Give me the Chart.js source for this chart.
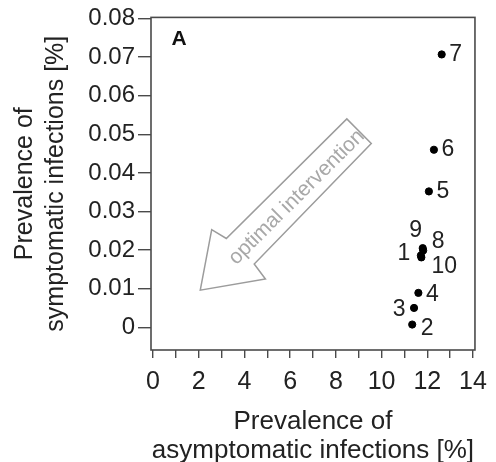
<!DOCTYPE html>
<html>
<head>
<meta charset="utf-8">
<script src="https://cdn.jsdelivr.net/npm/chart.js@4"></script>
<style>
  html, body { margin: 0; padding: 0; background: #fff; }
  #chart { display: block; }
</style>
</head>
<body>
<canvas id="chart" width="496" height="462"></canvas>
<script>
// scenario ids and prevalences
const scenarioIds = ['1', '2', '3', '4', '5', '6', '7', '8', '9', '10'];
const asymptomaticPct = [11.72, 11.34, 11.42, 11.61, 12.07, 12.29, 12.63, 11.82, 11.80, 11.74];
const symptomaticPct = [0.0186, 0.0007, 0.0050, 0.0089, 0.0352, 0.0460, 0.0707, 0.0199, 0.0205, 0.0181];

const xTickValues = [0, 2, 4, 6, 8, 10, 12, 14];
const yTickValues = [0, 0.01, 0.02, 0.03, 0.04, 0.05, 0.06, 0.07, 0.08];

// outline of the "optimal intervention" arrow, in data units (x %, y %)
const arrowOutline = [
    [2.07, 0.0096], [2.57, 0.0253], [3.21, 0.0230], [8.48, 0.0540],
    [9.55, 0.0476], [4.43, 0.0164], [4.92, 0.0125]
];
const arrowText = 'optimal intervention';

// where each number sits next to its dot (pixels)
const labelOffsets = [
    [-17, -2], [15, 4], [-15, 2], [14, 2], [14, 0],
    [14, 0], [14, 0], [15, -9], [-7, -17], [23, 9]
];

const FONT = "'Liberation Sans', Arial, Helvetica, sans-serif";
const INK = '#222';
const FRAME = '#4a4a4a';

const points = asymptomaticPct.map((x, i) => ({ x: x, y: symptomaticPct[i] }));

const decorPlugin = {
    id: 'decor',
    beforeDatasetsDraw(chart) {
        const ctx = chart.ctx;
        const xs = chart.scales.x, ys = chart.scales.y;
        const pts = arrowOutline.map(p => [xs.getPixelForValue(p[0]), ys.getPixelForValue(p[1])]);
        ctx.save();
        ctx.beginPath();
        pts.forEach((p, i) => i ? ctx.lineTo(p[0], p[1]) : ctx.moveTo(p[0], p[1]));
        ctx.closePath();
        ctx.strokeStyle = '#9c9c9c';
        ctx.lineWidth = 1.5;
        ctx.lineJoin = 'miter';
        ctx.stroke();

        // text runs along the shaft
        const a = pts[2], b = pts[3];
        const ang = Math.atan2(b[1] - a[1], b[0] - a[0]);
        const cx = (pts[2][0] + pts[3][0] + pts[4][0] + pts[5][0]) / 4;
        const cy = (pts[2][1] + pts[3][1] + pts[4][1] + pts[5][1]) / 4;
        ctx.translate(cx - 3, cy + 6);
        ctx.rotate(ang);
        ctx.fillStyle = '#a8a8a8';
        ctx.font = '21px ' + FONT;
        ctx.textAlign = 'center';
        ctx.textBaseline = 'middle';
        ctx.fillText(arrowText, 0, 0);
        ctx.restore();
    },
    afterDatasetsDraw(chart) {
        const ctx = chart.ctx;
        const area = chart.chartArea;
        const meta = chart.getDatasetMeta(0);
        ctx.save();
        // frame
        ctx.strokeStyle = FRAME;
        ctx.lineWidth = 1.6;
        ctx.strokeRect(area.left, area.top, area.right - area.left, area.bottom - area.top);

        // panel letter
        ctx.fillStyle = '#111';
        ctx.font = 'bold 21px ' + FONT;
        ctx.textAlign = 'center';
        ctx.textBaseline = 'middle';
        ctx.fillText('A', area.left + 28, area.top + 22);

        // point numbers
        ctx.font = '23px ' + FONT;
        ctx.fillStyle = INK;
        meta.data.forEach((el, i) => {
            const off = labelOffsets[i];
            ctx.fillText(scenarioIds[i], el.x + off[0], el.y + off[1]);
        });
        ctx.restore();
    }
};

new Chart(document.getElementById('chart').getContext('2d'), {
    type: 'scatter',
    data: {
        datasets: [{
            data: points,
            backgroundColor: '#000',
            borderColor: '#000',
            pointRadius: 3.6,
            pointHoverRadius: 3.6
        }]
    },
    options: {
        responsive: false,
        animation: false,
        devicePixelRatio: 1,
        layout: { padding: { top: 15, right: 13, left: 0, bottom: 0 } },
        plugins: { legend: { display: false }, tooltip: { enabled: false } },
        scales: {
            x: {
                type: 'linear',
                min: -0.085,
                max: 14.085,
                afterFit(scale) { scale.height = 112; },
                border: { display: false },
                grid: {
                    drawOnChartArea: false,
                    drawTicks: true,
                    tickLength: 8,
                    color: FRAME,
                    lineWidth: 1.4
                },
                ticks: {
                    stepSize: 1,
                    includeBounds: false,
                    autoSkip: false,
                    maxRotation: 0,
                    padding: 9,
                    color: INK,
                    font: { family: FONT, size: 25 },
                    callback: v => xTickValues.includes(v) ? String(v) : ''
                },
                title: {
                    display: true,
                    text: ['Prevalence of', 'asymptomatic infections [%]'],
                    color: INK,
                    font: { family: FONT, size: 26, lineHeight: 1.1 },
                    padding: { top: 0, bottom: -3 }
                }
            },
            y: {
                type: 'linear',
                min: -0.0059,
                max: 0.0803,
                afterFit(scale) { scale.width = 151; },
                border: { display: false },
                grid: {
                    drawOnChartArea: false,
                    drawTicks: true,
                    tickLength: 13,
                    color: FRAME,
                    lineWidth: 1.4
                },
                ticks: {
                    stepSize: 0.01,
                    includeBounds: false,
                    autoSkip: false,
                    padding: 3,
                    color: INK,
                    font: { family: FONT, size: 24 },
                    callback: v => {
                        const hit = yTickValues.find(t => Math.abs(t - v) < 1e-9);
                        if (hit === undefined) return '';
                        return hit === 0 ? '0' : hit.toFixed(2);
                    }
                },
                title: {
                    display: true,
                    text: ['Prevalence of', 'symptomatic infections [%]'],
                    color: INK,
                    font: { family: FONT, size: 25, lineHeight: 1.25 },
                    padding: { top: 9, bottom: 0 }
                }
            }
        }
    },
    plugins: [decorPlugin]
});
</script>
</body>
</html>
